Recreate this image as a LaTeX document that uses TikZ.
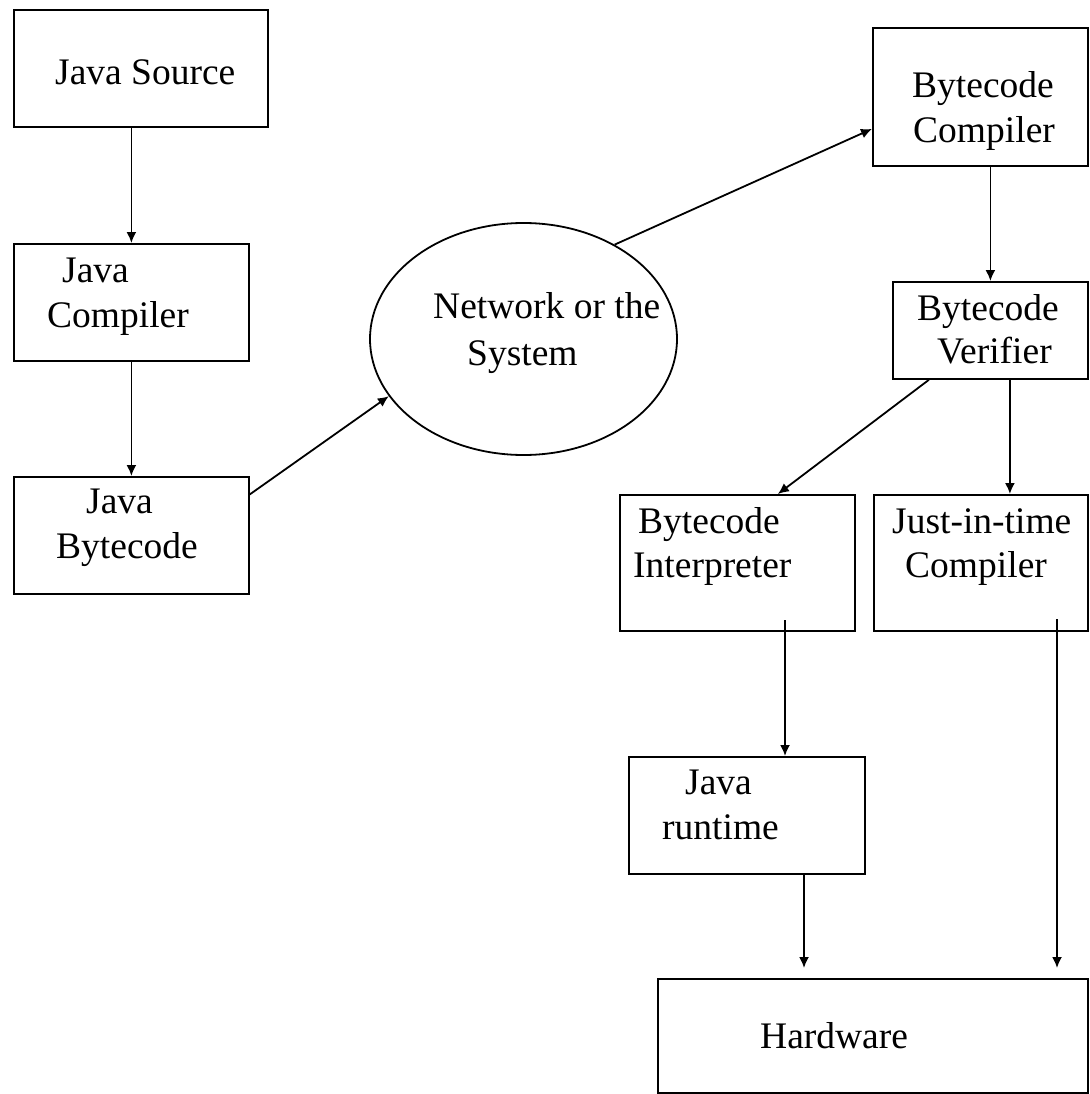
\documentclass[tikz,border=0pt]{standalone}
\usepackage{fontspec}
\setmainfont{Liberation Serif}
\usetikzlibrary{shapes.geometric,arrows.meta}
\begin{document}
\begin{tikzpicture}[x=1pt,y=-1pt,
  box/.style={draw,line width=1.8pt,inner sep=0pt,anchor=north west},
  oval/.style={draw,ellipse,line width=1.8pt,inner sep=0pt},
  lbl/.style={anchor=base west,inner sep=0pt,font=\fontsize{37.5}{45}\selectfont},
  arr/.style={line width=1.8pt,-{Latex[length=11pt,width=10pt]}}]
\useasboundingbox (0,0) rectangle (1089,1094);
% boxes
\node[box,minimum width=254pt,minimum height=117pt] (src) at (13,9) {};
\node[box,minimum width=235pt,minimum height=117pt] (jc) at (13,243) {};
\node[box,minimum width=235pt,minimum height=117pt] (jb) at (13,476) {};
\node[oval,minimum width=307pt,minimum height=232pt] (net) at (523.5,339) {};
\node[box,minimum width=215pt,minimum height=138pt] (bc) at (872,27) {};
\node[box,minimum width=195pt,minimum height=97pt] (bv) at (892,281) {};
\node[box,minimum width=235pt,minimum height=136pt] (bi) at (619,494) {};
\node[box,minimum width=214pt,minimum height=136pt] (jit) at (873,494) {};
\node[box,minimum width=236pt,minimum height=117pt] (jr) at (628,756) {};
\node[box,minimum width=430pt,minimum height=114pt] (hw) at (657,978) {};
% labels
\node[lbl] (t1) at (55,85) {Java Source};
\node[lbl] (t2) at (62,282) {Java};
\node[lbl] (t3) at (47,327) {Compiler};
\node[lbl] (t4) at (86,513) {Java};
\node[lbl] (t5) at (56,558) {Bytecode};
\node[lbl] (t6) at (433,318) {Network or the};
\node[lbl] (t7) at (467,365) {System};
\node[lbl] (t8) at (912,98) {Bytecode};
\node[lbl] (t9) at (913,143) {Compiler};
\node[lbl] (t10) at (917,320) {Bytecode};
\node[lbl] (t11) at (937,363) {Verifier};
\node[lbl] (t12) at (638,533) {Bytecode};
\node[lbl] (t13) at (633,577) {Interpreter};
\node[lbl] (t14) at (892,533) {Just-in-time};
\node[lbl] (t15) at (905,577) {Compiler};
\node[lbl] (t16) at (685,794) {Java};
\node[lbl] (t17) at (662,839) {runtime};
\node[lbl] (t18) at (760,1048) {Hardware};
% free-end coordinates
\coordinate (h1) at (804,968);
\coordinate (h2) at (1057,968);
\coordinate (s1) at (785,620);
\coordinate (s2) at (1057,619);
% connectors
\draw[arr] (jc.north |- src.south) -- (jc.north);
\draw[arr] (jc.south) -- (jb.north);
\draw[arr] ([yshift=41pt]jb.east) -- (net.203);
\draw[arr] (net.46) -- ([yshift=-32pt]bc.west);
\draw[arr] (bv.north |- bc.south) -- (bv.north);
\draw[arr] ([xshift=-61.5pt]bv.south) -- ([xshift=40.5pt]bi.north);
\draw[arr] ([xshift=19.5pt]bv.south) -- ([xshift=19.5pt]bv.south |- jit.north);
\draw[arr] (s1) -- (s1 |- jr.north);
\draw[arr] (h1 |- jr.south) -- (h1);
\draw[arr] (s2) -- (h2);
\end{tikzpicture}
\end{document}
